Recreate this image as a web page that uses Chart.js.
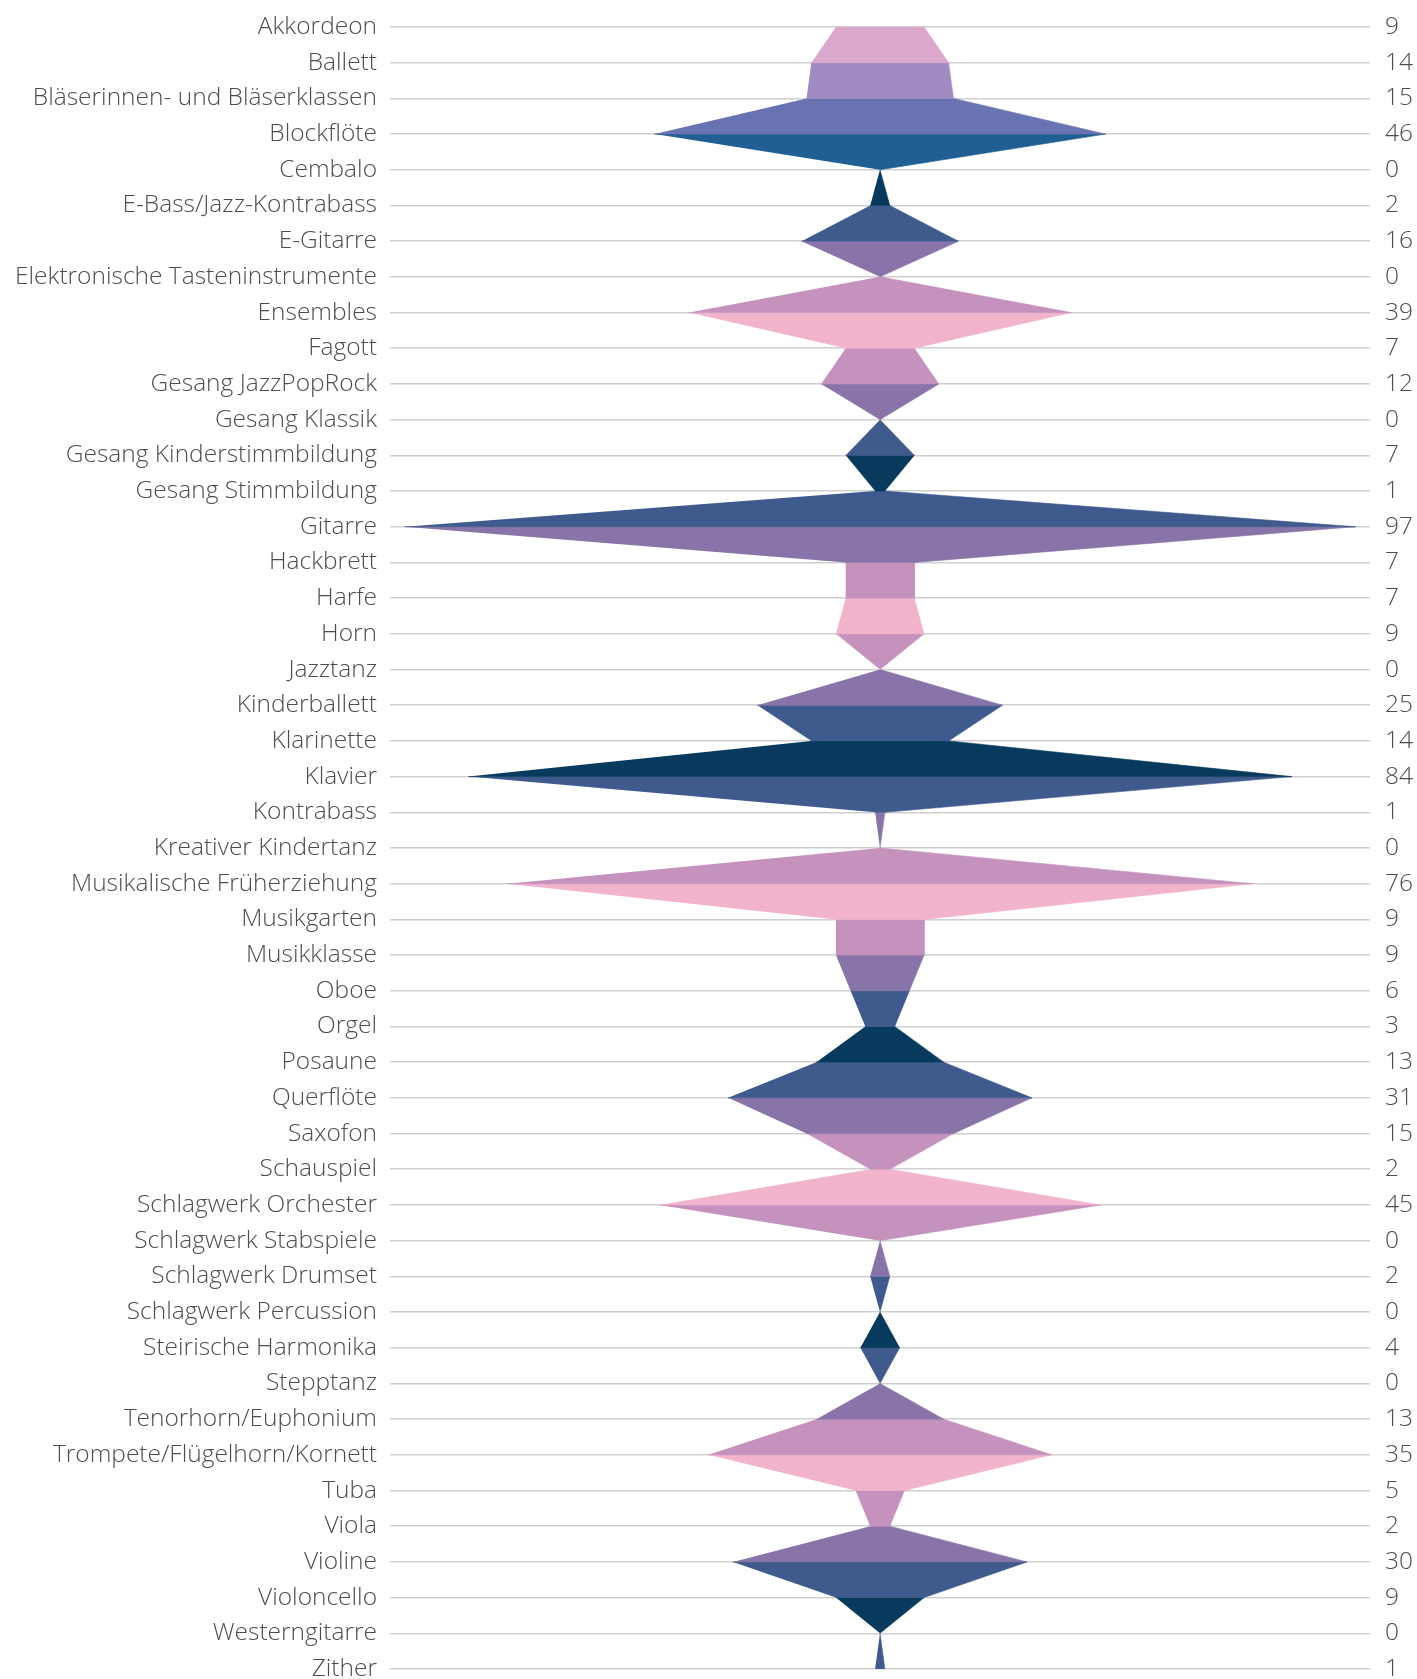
<!DOCTYPE html>
<html lang="de">
<head>
  <meta charset="UTF-8" />
  <title>Anmeldungen nach Fach</title>
  <script src="https://cdn.jsdelivr.net/npm/chart.js"></script>
  <style>
    html, body { margin: 0; padding: 0; background: #fff; }
    canvas { display: block; }
  </style>
</head>
<body>
  <canvas id="fachChart" width="1417" height="1679"></canvas>

  <script>
    // Faecher (von oben nach unten) und Anzahl
    const faecher = [
      'Akkordeon', 'Ballett', 'Bläserinnen- und Bläserklassen', 'Blockflöte', 'Cembalo',
      'E-Bass/Jazz-Kontrabass', 'E-Gitarre', 'Elektronische Tasteninstrumente', 'Ensembles', 'Fagott',
      'Gesang JazzPopRock', 'Gesang Klassik', 'Gesang Kinderstimmbildung', 'Gesang Stimmbildung', 'Gitarre',
      'Hackbrett', 'Harfe', 'Horn', 'Jazztanz', 'Kinderballett',
      'Klarinette', 'Klavier', 'Kontrabass', 'Kreativer Kindertanz', 'Musikalische Früherziehung',
      'Musikgarten', 'Musikklasse', 'Oboe', 'Orgel', 'Posaune',
      'Querflöte', 'Saxofon', 'Schauspiel', 'Schlagwerk Orchester', 'Schlagwerk Stabspiele',
      'Schlagwerk Drumset', 'Schlagwerk Percussion', 'Steirische Harmonika', 'Stepptanz', 'Tenorhorn/Euphonium',
      'Trompete/Flügelhorn/Kornett', 'Tuba', 'Viola', 'Violine', 'Violoncello',
      'Westerngitarre', 'Zither'
    ];
    const anzahl = [
      9, 14, 15, 46, 0,
      2, 16, 0, 39, 7,
      12, 0, 7, 1, 97,
      7, 7, 9, 0, 25,
      14, 84, 1, 0, 76,
      9, 9, 6, 3, 13,
      31, 15, 2, 45, 0,
      2, 0, 4, 0, 13,
      35, 5, 2, 30, 9,
      0, 1
    ];

    // Farben der Baender zwischen zwei Zeilen
    const startFarben = ['#dba7cc', '#a28bc3', '#6a73b1', '#1f5f93'];
    const zyklus = ['#073a5d', '#3f5a8c', '#8874a8', '#c592bd', '#f2b3cd', '#c592bd', '#8874a8', '#3f5a8c'];
    function bandFarbe(k) {
      return k < 4 ? startFarben[k] : zyklus[(k - 4) % 8];
    }

    const datasets = [];
    for (let k = 0; k < anzahl.length - 1; k++) {
      const a = anzahl[k], b = anzahl[k + 1];
      datasets.push({
        data: [
          { x: -a, y: k }, { x: a, y: k },
          { x: b, y: k + 1 }, { x: -b, y: k + 1 }
        ],
        showLine: true,
        fill: 'shape',
        backgroundColor: bandFarbe(k),
        borderColor: bandFarbe(k),
        borderWidth: 0.6,
        pointRadius: 0,
        tension: 0
      });
    }

    const schrift = { family: '"Open Sans", sans-serif', size: 24.5, weight: 300 };

    new Chart(document.getElementById('fachChart'), {
      type: 'scatter',
      data: { datasets },
      options: {
        responsive: false,
        animation: false,
        layout: { padding: { top: 27, bottom: 10, left: 0, right: 0 } },
        plugins: { legend: { display: false }, tooltip: { enabled: false } },
        scales: {
          x: {
            display: false,
            min: -100,
            max: 100
          },
          y: {
            position: 'left',
            min: 0,
            max: faecher.length - 1,
            reverse: true,
            afterFit(s) { s.width = 390; s.paddingTop = 0; s.paddingBottom = 0; },
            border: { display: false },
            grid: { color: '#cfcfcf', lineWidth: 1.6, drawTicks: false },
            ticks: {
              stepSize: 1,
              autoSkip: false,
              padding: 13,
              color: '#4d4d4d',
              font: schrift,
              callback: v => faecher[v]
            }
          },
          rechts: {
            position: 'right',
            min: 0,
            max: faecher.length - 1,
            reverse: true,
            afterFit(s) { s.width = 47; s.paddingTop = 0; s.paddingBottom = 0; },
            border: { display: false },
            grid: { display: false, drawTicks: false },
            ticks: {
              stepSize: 1,
              autoSkip: false,
              padding: 15,
              color: '#4d4d4d',
              font: schrift,
              callback: v => String(anzahl[v])
            }
          }
        }
      }
    });
  </script>
</body>
</html>
